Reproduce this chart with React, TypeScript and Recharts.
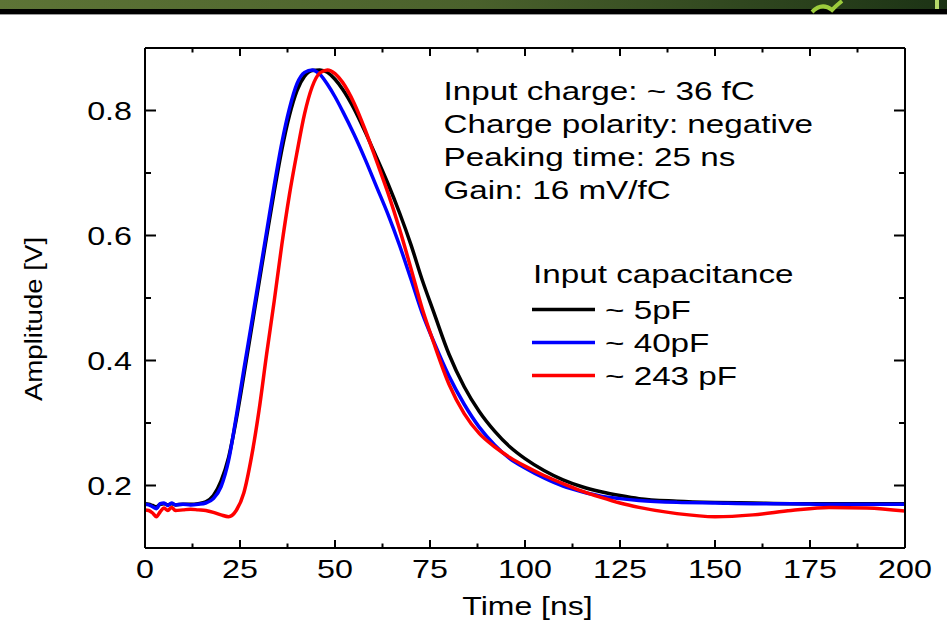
import React from 'react'
import { LineChart, Line, XAxis, YAxis, Legend, Label, Customized } from 'recharts'

// time axis (ns), shared by the three traces
const times = [0, 1, 2, 3, 4, 5, 6, 7, 8, 10, 12, 14, 16, 18, 20, 22, 24, 26, 28, 30, 32, 34, 36, 38, 40, 42, 44, 46, 48, 50, 52, 55, 58, 61, 64, 67, 70, 73, 76, 80, 84, 88, 92, 96, 100, 105, 110, 115, 120, 125, 130, 140, 150, 160, 170, 180, 190, 200]

// amplitude [V]
const cap5pF = [0.171, 0.170, 0.168, 0.166, 0.170, 0.171, 0.169, 0.171, 0.169, 0.170, 0.170, 0.171, 0.174, 0.184, 0.207, 0.245, 0.305, 0.376, 0.45, 0.524, 0.598, 0.67, 0.737, 0.792, 0.832, 0.855, 0.864, 0.865, 0.861, 0.85, 0.834, 0.803, 0.765, 0.724, 0.682, 0.636, 0.585, 0.528, 0.477, 0.41, 0.358, 0.318, 0.287, 0.262, 0.243, 0.224, 0.209, 0.198, 0.19, 0.184, 0.179, 0.175, 0.173, 0.172, 0.171, 0.171, 0.171, 0.171]
const cap40pF = [0.170, 0.169, 0.166, 0.163, 0.171, 0.172, 0.168, 0.172, 0.169, 0.170, 0.169, 0.170, 0.172, 0.179, 0.198, 0.24, 0.31, 0.385, 0.458, 0.532, 0.606, 0.68, 0.748, 0.803, 0.843, 0.861, 0.865, 0.858, 0.842, 0.822, 0.799, 0.762, 0.721, 0.677, 0.633, 0.584, 0.53, 0.475, 0.43, 0.375, 0.33, 0.293, 0.265, 0.243, 0.228, 0.212, 0.199, 0.19, 0.183, 0.179, 0.176, 0.173, 0.172, 0.171, 0.171, 0.170, 0.170, 0.170]
const cap243pF = [0.161, 0.160, 0.156, 0.150, 0.158, 0.164, 0.160, 0.165, 0.160, 0.161, 0.162, 0.161, 0.160, 0.157, 0.153, 0.150, 0.160, 0.188, 0.245, 0.32, 0.41, 0.495, 0.585, 0.665, 0.733, 0.795, 0.838, 0.86, 0.865, 0.859, 0.845, 0.812, 0.768, 0.718, 0.667, 0.61, 0.547, 0.482, 0.428, 0.362, 0.315, 0.283, 0.262, 0.245, 0.231, 0.216, 0.203, 0.191, 0.181, 0.172, 0.165, 0.155, 0.150, 0.153, 0.160, 0.165, 0.164, 0.159]

const xTicks = [0, 12.5, 25, 37.5, 50, 62.5, 75, 87.5, 100, 112.5, 125, 137.5, 150, 162.5, 175, 187.5, 200]
const yTicks = [0.1, 0.2, 0.3, 0.4, 0.5, 0.6, 0.7, 0.8, 0.9]

const infoLines = ['Input charge: ~ 36 fC', 'Charge polarity: negative', 'Peaking time: 25 ns', 'Gain: 16 mV/fC']

const data = times.map((t, i) => ({ t, a: cap5pF[i], b: cap40pF[i], c: cap243pF[i] }))

const FONT = '"Liberation Sans", Arial, sans-serif'
const SX = 1.29
const SX_TEXT = 1.33

const isMajorX = (v: number) => v % 25 === 0
const isMajorY = (v: number) => Math.round(v * 10) % 2 === 0

const BottomTick = ({ x, y, payload }: any) => {
  const major = isMajorX(payload.value)
  return (
    <g>
      <line x1={x} x2={x} y1={y} y2={y - (major ? 8 : 4.5)} stroke="#000" strokeWidth={2} />
      {major && (
        <text transform={`translate(${x},${y + 30}) scale(${SX},1)`} textAnchor="middle" fontSize={25} fontFamily={FONT} fill="#000">
          {payload.value}
        </text>
      )}
    </g>
  )
}

const TopTick = ({ x, y, payload }: any) => (
  <line x1={x} x2={x} y1={y} y2={y + (isMajorX(payload.value) ? 8 : 4.5)} stroke="#000" strokeWidth={2} />
)

const LeftTick = ({ x, y, payload }: any) => {
  const major = isMajorY(payload.value)
  return (
    <g>
      <line x1={x} x2={x + (major ? 11 : 6)} y1={y} y2={y} stroke="#000" strokeWidth={2} />
      {major && (
        <text transform={`translate(${x - 13},${y + 9}) scale(${SX},1)`} textAnchor="end" fontSize={25} fontFamily={FONT} fill="#000">
          {payload.value.toFixed(1)}
        </text>
      )}
    </g>
  )
}

const RightTick = ({ x, y, payload }: any) => (
  <line x1={x} x2={x - (isMajorY(payload.value) ? 11 : 6)} y1={y} y2={y} stroke="#000" strokeWidth={2} />
)

const renderLegend = (props: any) => {
  const { payload = [] } = props
  return (
    <svg width={320} height={140} style={{ overflow: 'visible' }}>
      <text transform={`translate(13,33) scale(${SX_TEXT},1)`} fontSize={25} fontFamily={FONT} fill="#000">
        Input capacitance
      </text>
      {payload.map((entry: any, i: number) => (
        <g key={i}>
          <line x1={12} x2={75} y1={59.5 + 33 * i} y2={59.5 + 33 * i} stroke={entry.color} strokeWidth={3.5} />
          <text transform={`translate(85,${68.5 + 33 * i}) scale(${SX_TEXT},1)`} fontSize={25} fontFamily={FONT} fill="#000">
            {entry.value}
          </text>
        </g>
      ))}
    </svg>
  )
}

const InfoText = () => (
  <g>
    {infoLines.map((s, i) => (
      <text key={i} transform={`translate(443.5,${100 + 33.1 * i}) scale(${SX_TEXT},1)`} fontSize={25} fontFamily={FONT} fill="#000">
        {s}
      </text>
    ))}
  </g>
)

const TimeLabel = ({ viewBox }: any) => (
  <text transform={`translate(${viewBox.x + viewBox.width / 2 + 2.5},${viewBox.y + 67}) scale(1.28,1)`} textAnchor="middle" fontSize={25} fontFamily={FONT} fill="#000">
    Time [ns]
  </text>
)

const AmpLabel = ({ viewBox }: any) => (
  <text transform={`translate(41.7,${viewBox.y + viewBox.height / 2 + 21}) rotate(-90) scale(1.15,1)`} textAnchor="middle" fontSize={24} fontFamily={FONT} fill="#000">
    Amplitude [V]
  </text>
)

export default function App() {
  return (
    <div style={{ position: 'absolute', left: 0, top: 0, width: 947, height: 641, background: '#fff', overflow: 'hidden' }}>
      <LineChart width={947} height={641} data={data} margin={{ top: 47, right: 41, bottom: 0, left: 0 }}>
        <XAxis
          dataKey="t"
          type="number"
          domain={[0, 200]}
          ticks={xTicks}
          interval={0}
          height={93}
          tickSize={0}
          tickMargin={0}
          tickLine={false}
          tick={BottomTick}
          axisLine={{ stroke: '#000', strokeWidth: 2 }}
          allowDataOverflow
        >
          <Label content={TimeLabel} />
        </XAxis>
        <XAxis
          xAxisId="top"
          orientation="top"
          dataKey="t"
          type="number"
          domain={[0, 200]}
          ticks={xTicks}
          interval={0}
          height={1}
          tickSize={0}
          tickMargin={0}
          tickLine={false}
          tick={TopTick}
          axisLine={{ stroke: '#000', strokeWidth: 2 }}
          allowDataOverflow
        />
        <YAxis
          type="number"
          domain={[0.1, 0.9]}
          ticks={yTicks}
          interval={0}
          width={145}
          tickSize={0}
          tickMargin={0}
          tickLine={false}
          tick={LeftTick}
          axisLine={{ stroke: '#000', strokeWidth: 2 }}
          allowDataOverflow
        >
          <Label content={AmpLabel} />
        </YAxis>
        <YAxis
          yAxisId="right"
          orientation="right"
          type="number"
          domain={[0.1, 0.9]}
          ticks={yTicks}
          interval={0}
          width={1}
          tickSize={0}
          tickMargin={0}
          tickLine={false}
          tick={RightTick}
          axisLine={{ stroke: '#000', strokeWidth: 2 }}
          allowDataOverflow
        />
        <Legend
          content={renderLegend}
          itemSorter="dataKey"
          layout="horizontal"
          verticalAlign="middle"
          align="center"
          wrapperStyle={{ left: 520, top: 250, width: 320, height: 140 }}
        />
        <Customized component={InfoText} />
        <Line type="monotone" dataKey="a" name="~ 5pF" stroke="#000000" strokeWidth={3.5} dot={false} isAnimationActive={false} />
        <Line type="monotone" dataKey="b" name="~ 40pF" stroke="#0000ff" strokeWidth={3.5} dot={false} isAnimationActive={false} />
        <Line xAxisId="top" yAxisId="right" type="monotone" dataKey="c" name="~ 243 pF" stroke="#ff0000" strokeWidth={3.5} dot={false} isAnimationActive={false} />
      </LineChart>
      <div style={{ position: 'absolute', left: 0, top: 0, width: 947, height: 9, background: 'linear-gradient(to right, #5d7436, #4a612c 50%, #1c3315)' }} />
      <div style={{ position: 'absolute', left: 0, top: 9, width: 947, height: 5, background: '#000' }} />
      <div style={{ position: 'absolute', left: 0, top: 14, width: 947, height: 1, background: '#9a9a9a' }} />
      <svg style={{ position: 'absolute', left: 0, top: 0 }} width={947} height={15}>
        <path d="M812 12 Q822 2 832 10 Q838 4 842 1" stroke="#9ccc3c" strokeWidth={4} fill="none" />
        <rect x={935} y={0} width={4} height={9} fill="#b5d86a" />
      </svg>
    </div>
  )
}
